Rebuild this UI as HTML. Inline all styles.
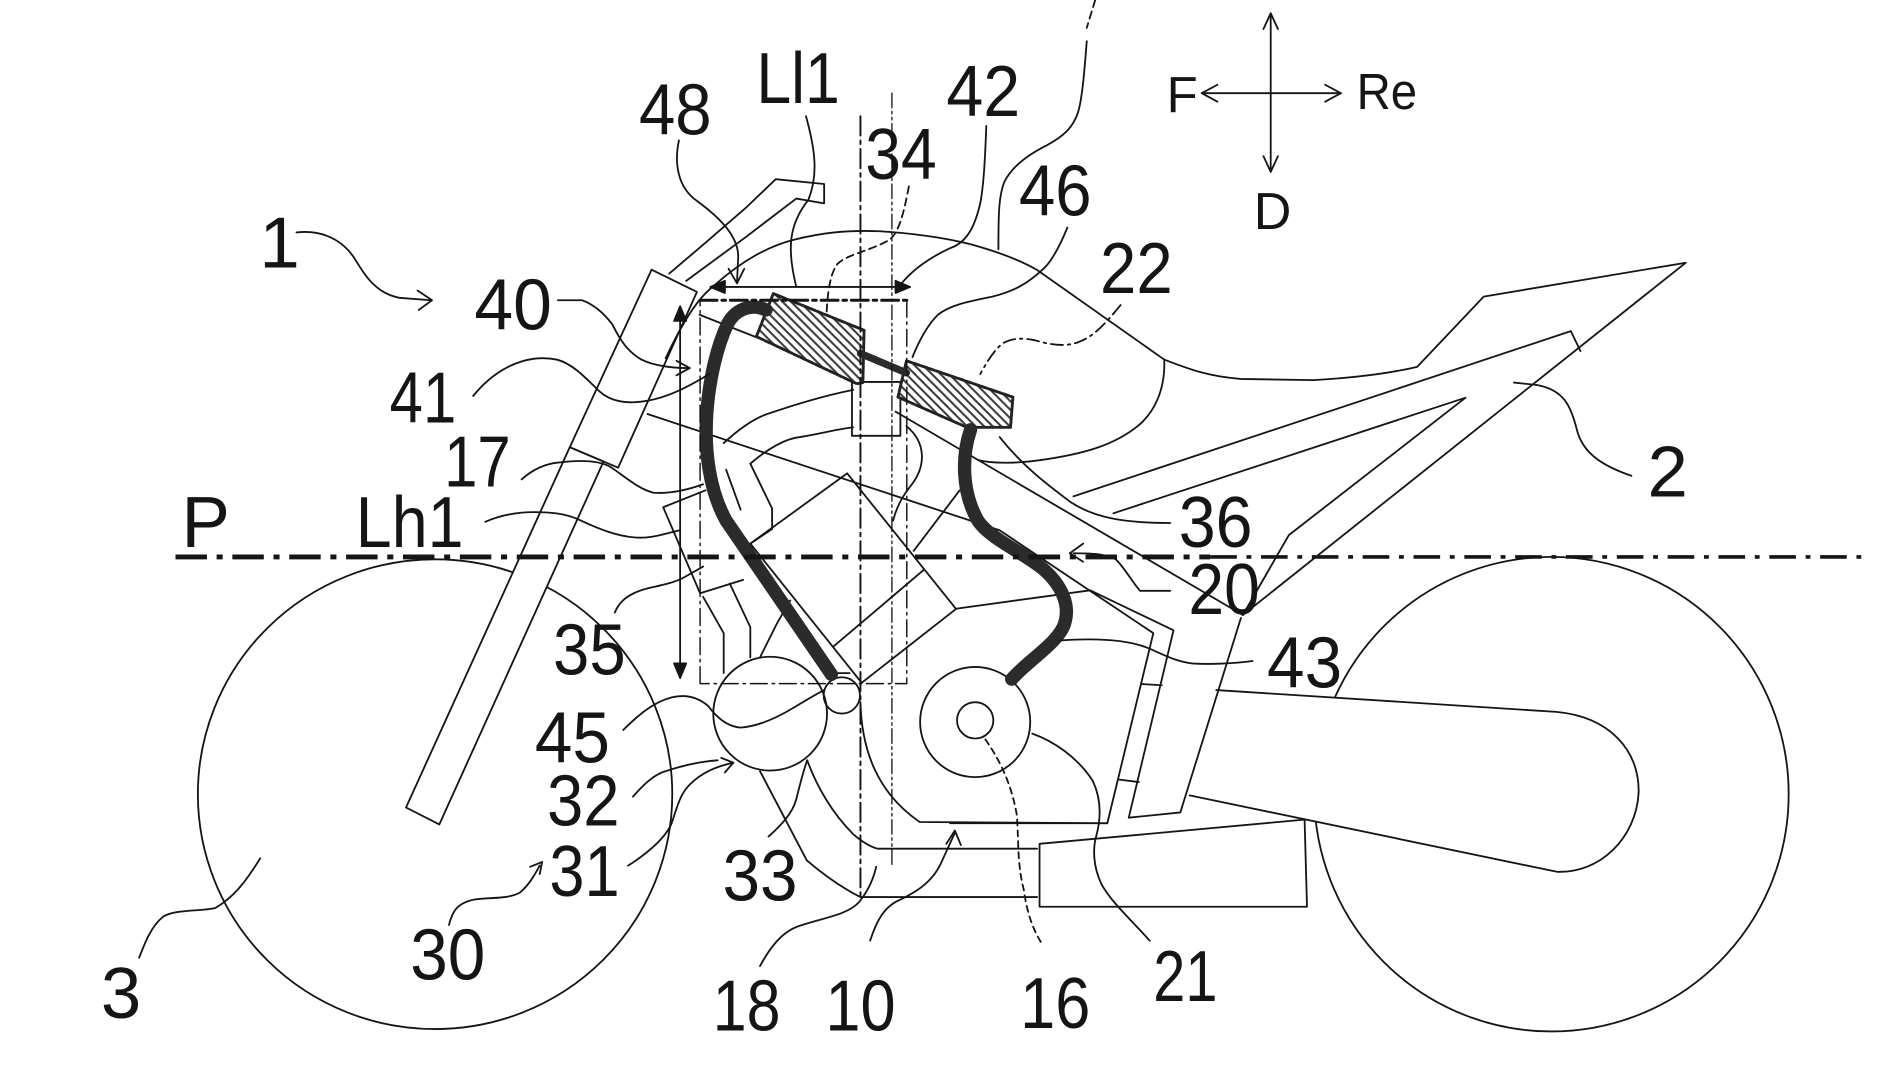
<!DOCTYPE html>
<html><head><meta charset="utf-8"><style>
html,body{margin:0;padding:0;background:#fff;}
svg{display:block;}
text{font-family:"Liberation Sans",Arial,sans-serif;fill:#151515;}
</style></head><body>
<svg width="1900" height="1069" viewBox="0 0 1570 883" preserveAspectRatio="none" xmlns="http://www.w3.org/2000/svg">
<defs>
<pattern id="h" width="5" height="5" patternUnits="userSpaceOnUse" patternTransform="rotate(-45)">
<rect width="5" height="5" fill="#fff"/>
<line x1="1" y1="0" x2="1" y2="5" stroke="#3a3a3a" stroke-width="1.7"/>
</pattern>
</defs>
<rect width="1570" height="883" fill="#fff"/>
<g fill="none" stroke="#151515" stroke-width="1.5" stroke-linejoin="round" stroke-linecap="round">

<!-- wheels -->
<ellipse cx="359.5" cy="656" rx="196" ry="194"/>
<circle cx="1282" cy="656" r="196"/>

<!-- swingarm -->
<path d="M1005,570 L1286,588 C1330,592 1355,620 1354,655 C1352,692 1322,722 1286,720 L983,657 Z" fill="#fff" stroke="none"/>
<path d="M1005,570 L1286,588 C1330,592 1355,620 1354,655 C1352,692 1322,722 1286,720 L983,657"/>

<!-- fork -->
<polygon points="335.5,667 470.8,369.4 498.7,381.2 363,681" fill="#fff"/>
<polygon points="538.4,222.8 575.9,241.1 510.8,386.3 470.8,369.4"/>
<!-- handlebar -->
<path d="M553,226 L580,203 L617,171 L641,148 L681,152 L681,168 L658,164 L616,196 L567,232"/>

<!-- tank / seat / tail -->
<path d="M550,296 C566,262 578,245 590,236 C610,218 632,204 656,198 C680,192 700,190 727,191 C760,193 790,198 810,204 C830,210 845,216 857,223 L962,297"/>
<path d="M962,297 C963,320 955,340 940,352 C920,368 895,375 860,380 C840,383 820,383 808,380"/>
<path d="M962,297 C985,306 1000,311 1025,313 L1085,314 C1120,312 1150,308 1171,303 L1226,245 L1393,217 L1027,508"/>
<path d="M887,410 L1298,273.5 L1306,290"/>
<path d="M920,424 L1211,328.5 L1065,442 L1027,508"/>
<path d="M826,361 C845,385 865,400 885,415 C905,428 930,432 967,432"/>

<!-- frame -->
<path d="M578,260 L626,279"/>
<path d="M740,340 L1027,508"/>
<path d="M535,342 L826,438 L953,523 L915,680 L785,680"/>
<path d="M790.6,502.7 L900.8,487.6 L969.7,520.6 L932.7,675.4 L975.3,671.1 L1025.4,510.4"/>
<path d="M943,565 L960,566 M925,644 L941,646"/>

<!-- engine -->
<polygon points="620,449 700,391 790,503 712,564"/>
<path d="M688.7,534 L763,471"/>
<path d="M620,383 C635,370 650,362 661,361 C680,358 693,354 705,353"/>
<path d="M598,366 C610,355 622,346 634,342 C660,333 685,326 705,322"/>
<path d="M620,383 L638,420 L638,437 L620,449"/>
<path d="M749,352 C765,365 766,385 752,402 C744,412 740,422 738,430"/>
<path d="M793,405 L755,455"/>
<rect x="704" y="315.5" width="40" height="44.5"/>
<path d="M548,419 L583,405 M548,419 L578.5,490 L614,479"/>
<path d="M581,493 L598,523 L598,556 M603,482 L620,518 L620,543 M628,543 L642,515 L653,496"/>
<path d="M600,388 L612,421"/>

<circle cx="636.4" cy="589.5" r="47"/>
<circle cx="695.6" cy="574.4" r="15"/>
<circle cx="805.8" cy="596.4" r="45.5"/>
<circle cx="805.8" cy="595" r="15"/>
<path d="M711,580 C712,620 725,655 760,679 L915,680"/>
<path d="M667,628 C675,650 688,672 705,689 C712,695 718,699 725,701 L857,701"/>
<path d="M628,637 L666.7,710.7 C680,722 695,733 711,741 L857,741"/>
<polygon points="859,697 1078,677 1080,749 859,749" fill="#fff"/>
<path d="M689,556 L702,556"/>

<!-- hatched ducts -->
<polygon points="639,242.5 714,272.8 713,316 708,317 625,278" fill="url(#h)" stroke="#222" stroke-width="2.4" stroke-dasharray="5 1.5"/>
<polygon points="749,298 837,328 835,353 799,353 742,328" fill="url(#h)" stroke="#222" stroke-width="2.4" stroke-dasharray="5 1.5"/>
<path d="M711,292 L749,308" stroke="#2b2b2b" stroke-width="6"/>

<!-- hoses -->
<path d="M633,256 C620,250 607,256 601,268 C593,285 586,312 584,342 C582,372 586,405 600,430 L687,557" stroke="#2b2b2b" stroke-width="11"/>
<path d="M802,355 C795,375 794,405 808,430 C818,445 845,456 862,470 C878,484 884,500 880,514 C876,530 850,545 836,561" stroke="#2b2b2b" stroke-width="11"/>

<!-- dimension box and lines -->
<path d="M578.5,564.7 L578.5,248 M749.3,248 L749.3,564.7 L578.5,564.7" stroke-width="1.2" stroke-dasharray="14 4 2 4"/>
<path d="M578.5,248 L749.3,248" stroke-width="2.4" stroke-dasharray="14 4 3 4"/>
<path d="M711,96 L711,741" stroke-width="1.6" stroke-dasharray="16 4 3 4"/>
<path d="M737,77 L737,714" stroke-width="1.1" stroke-dasharray="12 3 2 3 2 3"/>
<path d="M587,237 L752,237"/>
<path d="M562,253 L562,560"/>
<g fill="#151515">
<polygon points="587,237 599,232 599,242"/>
<polygon points="752,237 740,232 740,242"/>
<polygon points="562,253 557,265 567,265"/>
<polygon points="562,560 557,548 567,548"/>
</g>

<!-- P line -->
<path d="M145,460 L1000,460" stroke-width="4" stroke-dasharray="26 8 5 8" stroke-linecap="butt"/>
<path d="M1000,460 L1540,460" stroke-width="3" stroke-dasharray="22 8 4 8" stroke-linecap="butt"/>

<!-- top reference line -->
<path d="M905,0 L898,23" stroke-dasharray="6 4"/>
<path d="M898,34 C896,60 894,85 890,95 C886,105 880,112 865,120 C845,130 835,140 830,150 C825,162 825,180 825,206"/>

<!-- direction cross -->
<path d="M1050,11 L1050,142 M993,77 L1108,77"/>
<path d="M1044,24 L1050,11 L1056,24 M1044,129 L1050,142 L1056,129 M1006,70 L993,77 L1006,84 M1095,70 L1108,77 L1095,84"/>

<!-- leaders -->
<path d="M245,192 C262,190 280,195 292,212 C302,228 310,242 330,246 L356,248"/>
<path d="M345,240 L357,248 L346,256"/>
<path d="M561,116 C557,135 560,155 576,166 C595,180 610,195 610,212 L609,233"/>
<path d="M602,222 L609,234 L615,222"/>
<path d="M666,96 C674,125 676,145 668,165 C652,185 650,205 658,237"/>
<path d="M751,154 C747,175 743,192 735,198 C720,207 700,210 692,218 C686,226 684,240 683,259" stroke-dasharray="6 4"/>
<path d="M815,104 C814,130 813,152 810,168 C806,185 800,200 785,205 C770,212 755,222 745,234"/>
<path d="M882,188 C875,205 868,218 860,224 C850,233 840,240 820,245 C800,249 785,252 775,260 C765,270 758,285 754,295"/>
<path d="M926,252 C915,265 905,278 890,283 C878,287 865,284 855,281 C845,279 836,279 828,284 C820,291 815,300 810,309" stroke-dasharray="10 4 2 4"/>
<path d="M1348,393 C1325,385 1308,375 1303,355 C1298,335 1292,322 1270,318 L1251,316"/>
<path d="M967,488 L942,488 C935,480 930,470 922,462 C915,458 905,457 887,457"/>
<path d="M895,449 L884,457 L895,464"/>
<path d="M1035,546 C1020,548 1000,549 985,548 C970,546 960,540 948,535 C930,528 905,527 876,529"/>
<path d="M950,777 C935,760 918,745 910,730 C903,715 903,700 906,690 C910,675 910,660 903,645 C890,625 870,612 853,606"/>
<path d="M860,778 C852,765 848,750 846,735 C840,712 842,690 840,672 C836,650 828,630 813,609" stroke-dasharray="5 4"/>
<path d="M628,798 C635,785 645,770 660,765 C680,758 700,756 710,745 C718,735 722,725 724,716"/>
<path d="M719,777 C723,765 728,752 740,745 C755,738 770,730 778,712 L789,688"/>
<path d="M782,697 L789,686 L794,698"/>
<path d="M635,691 C645,682 655,672 658,660 C661,648 664,636 667,628"/>
<path d="M519,715 C535,705 550,692 555,680 C560,665 562,656 570,648 C580,638 592,633 606,630"/>
<path d="M596,626 L606,630 L599,638"/>
<path d="M523,658 C532,648 540,640 550,637 C565,632 578,629 593,628"/>
<path d="M515,603 C528,590 540,580 555,576 C568,573 578,577 585,583 C592,592 600,600 612,601 C625,600 640,594 655,585 C665,579 675,573 681,570"/>
<path d="M508,506 C512,496 520,490 535,486 C548,483 558,481 565,477 L581,468"/>
<path d="M371,764 C374,752 378,746 392,743 C405,741 420,743 430,737 C438,730 442,722 446,715"/>
<path d="M438,716 L448,712 L446,722"/>
<path d="M115,791 C120,778 125,765 135,757 C145,751 165,753 178,750 C195,740 205,725 215,709"/>
<path d="M431,396 C440,388 450,383 462,382 C478,380 495,380 505,386 C518,395 528,404 540,407 C555,408 570,404 581,400"/>
<path d="M401,431 C415,425 428,423 441,423 C455,423 468,424 480,430 C495,437 510,443 525,444 C538,445 548,441 562,438"/>
<path d="M391,327 C400,316 410,308 420,303 C432,297 445,294 460,297 C472,300 482,310 495,323 C505,332 518,334 535,331 C552,328 568,320 586,309"/>
<path d="M461,248 L481,248 C492,252 500,260 506,268 C512,280 518,290 530,297 C540,302 555,304 568,304"/>
<path d="M559,298 L570,304 L559,310"/>
</g>

<!-- labels -->
<g font-size="60">
<text x="231" y="221" text-anchor="middle">1</text>
<text x="528" y="111" textLength="60" lengthAdjust="spacingAndGlyphs">48</text>
<text x="625" y="85" textLength="69" lengthAdjust="spacingAndGlyphs">Ll1</text>
<text x="715" y="148" textLength="59" lengthAdjust="spacingAndGlyphs">34</text>
<text x="782" y="96" textLength="61" lengthAdjust="spacingAndGlyphs">42</text>
<text x="842" y="178" textLength="60" lengthAdjust="spacingAndGlyphs">46</text>
<text x="909" y="242" textLength="60" lengthAdjust="spacingAndGlyphs">22</text>
<text x="392" y="272" textLength="64" lengthAdjust="spacingAndGlyphs">40</text>
<text x="322" y="349" textLength="55" lengthAdjust="spacingAndGlyphs">41</text>
<text x="367" y="402" textLength="55" lengthAdjust="spacingAndGlyphs">17</text>
<text x="150" y="452">P</text>
<text x="294" y="452" textLength="89" lengthAdjust="spacingAndGlyphs">Lh1</text>
<text x="974" y="452" textLength="61" lengthAdjust="spacingAndGlyphs">36</text>
<text x="982" y="507" textLength="59" lengthAdjust="spacingAndGlyphs">20</text>
<text x="1047" y="568" textLength="62" lengthAdjust="spacingAndGlyphs">43</text>
<text x="457" y="557" textLength="60" lengthAdjust="spacingAndGlyphs">35</text>
<text x="442" y="630" textLength="62" lengthAdjust="spacingAndGlyphs">45</text>
<text x="452" y="682" textLength="60" lengthAdjust="spacingAndGlyphs">32</text>
<text x="454" y="740" textLength="58" lengthAdjust="spacingAndGlyphs">31</text>
<text x="597" y="744" textLength="62" lengthAdjust="spacingAndGlyphs">33</text>
<text x="339" y="809" textLength="62" lengthAdjust="spacingAndGlyphs">30</text>
<text x="100" y="841" text-anchor="middle">3</text>
<text x="589" y="851" textLength="56" lengthAdjust="spacingAndGlyphs">18</text>
<text x="682" y="851" textLength="58" lengthAdjust="spacingAndGlyphs">10</text>
<text x="843" y="849" textLength="58" lengthAdjust="spacingAndGlyphs">16</text>
<text x="953" y="827" textLength="53" lengthAdjust="spacingAndGlyphs">21</text>
<text x="1378" y="410" text-anchor="middle">2</text>
</g>
<text x="964" y="93" font-size="42">F</text>
<text x="1121" y="90" font-size="42" textLength="50" lengthAdjust="spacingAndGlyphs">Re</text>
<text x="1036" y="189" font-size="43">D</text>
</svg>
</body></html>
